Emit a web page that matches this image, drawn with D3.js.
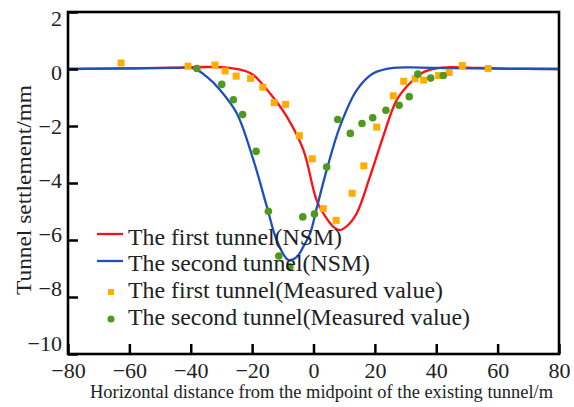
<!DOCTYPE html>
<html><head><meta charset="utf-8">
<script src="https://cdn.jsdelivr.net/npm/d3@7"></script>
<style>body{margin:0;background:#fff;}svg{display:block;}text{font-family:"Liberation Serif","Times New Roman",serif;fill:#222;}</style>
</head><body><svg id="c" width="574" height="407"></svg>
<script>
// Tick values
const xTicks = [-80, -60, -40, -20, 0, 20, 40, 60, 80];
const yTicks = [2, 0, -2, -4, -6, -8, -10];

// The first tunnel (NSM) curve
const firstNSMx = [-80, -60, -45, -35, -28, -22, -19.6, -14.2, -8.7, -3.3, 1, 4, 6.4, 8.5, 11, 14.1, 18.4, 22.7, 27.1, 31.4, 36, 42, 50, 60, 80];
const firstNSMy = [0, 0.02, 0.05, 0.07, 0.05, -0.08, -0.21, -0.85, -1.67, -2.84, -4.6, -5.2, -5.53, -5.65, -5.5, -5.06, -3.78, -2.37, -1.09, -0.5, -0.1, 0.05, 0.05, 0.02, 0];

// The second tunnel (NSM) curve
const secondNSMx = [-80, -60, -45, -39, -34.8, -30.4, -25, -19.6, -15.2, -12, -8.2, -5.5, -3.3, -1.1, 1, 4.3, 8.6, 14.1, 19.5, 26, 35, 45, 60, 80];
const secondNSMy = [0, 0.02, 0.04, 0.02, -0.27, -0.74, -1.55, -3.19, -4.83, -6.0, -6.70, -6.6, -6.23, -5.77, -4.9, -3.54, -2.02, -0.74, -0.15, 0.04, 0.05, 0.03, 0.01, 0];

// The first tunnel (Measured value)
const firstMeasX = [-62.7, -40.9, -32.1, -28.8, -25.2, -20.5, -16.5, -12.8, -9.1, -4.6, -0.4, 3.2, 7.4, 12.6, 16.4, 20.6, 26.0, 29.4, 33.1, 35.9, 40.8, 44.2, 48.5, 56.9];
const firstMeasY = [0.21, 0.10, 0.14, -0.07, -0.25, -0.33, -0.64, -1.18, -1.24, -2.34, -3.15, -4.90, -5.31, -4.36, -3.40, -2.04, -0.94, -0.43, -0.34, -0.39, -0.23, -0.12, 0.12, 0.02];

// The second tunnel (Measured value)
const secondMeasX = [-38.0, -29.9, -26.1, -23.1, -18.7, -14.7, -11.3, -7.7, -3.5, 0.3, 4.3, 7.9, 12.0, 15.8, 19.3, 23.6, 27.9, 31.2, 34.0, 38.2, 42.3];
const secondMeasY = [0.02, -0.54, -1.08, -1.60, -2.89, -4.99, -6.56, -6.94, -5.19, -5.09, -3.44, -1.77, -2.26, -1.91, -1.71, -1.45, -1.27, -0.97, -0.18, -0.32, -0.23];

const legendLabels = ["The first tunnel(NSM)", "The second tunnel(NSM)", "The first tunnel(Measured value)", "The second tunnel(Measured value)"];
const xTitle = "Horizontal distance from the midpoint of the existing tunnel/m";
const yTitle = "Tunnel settlement/mm";

const RED = "#ff1010", BLUE = "#1f4fbf", ORANGE = "#ffad00", GREEN = "#4f9a1c";
const L = 68, R = 559, T = 12, B = 354;
const svg = d3.select("#c");
const x = d3.scaleLinear().domain([-80, 80]).range([L, R]);
const y = d3.scaleLinear().domain([-10, 2]).range([B, T]);
// y tick labels sit on a slightly compressed scale, as in the original
const yLab = d3.scaleLinear().domain([-10, 2]).range([343, 18]);

const zip = (a, b) => a.map((v, i) => [v, b[i]]);
const line = d3.line().x(d => x(d[0])).y(d => y(d[1])).curve(d3.curveCatmullRom.alpha(0.5));

const plot = svg.append("g");
plot.append("path").attr("d", line(zip(firstNSMx, firstNSMy))).attr("fill", "none").attr("stroke", RED).attr("stroke-width", 2.3);
plot.append("path").attr("d", line(zip(secondNSMx, secondNSMy))).attr("fill", "none").attr("stroke", BLUE).attr("stroke-width", 2.3);

plot.selectAll(".sq").data(zip(firstMeasX, firstMeasY)).enter().append("rect")
  .attr("x", d => x(d[0]) - 3.5).attr("y", d => y(d[1]) - 3.5).attr("width", 7).attr("height", 7).attr("fill", ORANGE);
plot.selectAll(".ci").data(zip(secondMeasX, secondMeasY)).enter().append("circle")
  .attr("cx", d => x(d[0])).attr("cy", d => y(d[1])).attr("r", 3.8).attr("fill", GREEN);

// axes (ticks inward)
const fmt = d => d < 0 ? "−" + Math.abs(d) : d;
const xAxis = d3.axisBottom(x).tickValues(xTicks).tickSize(-10).tickPadding(14).tickFormat(fmt);
const yAxis = d3.axisLeft(y).tickValues(yTicks).tickSize(-10).tickPadding(6).tickFormat(fmt);
const gx = svg.append("g").attr("transform", `translate(0,${B})`).call(xAxis);
const gy = svg.append("g").attr("transform", `translate(${L},0)`).call(yAxis);
[gx, gy].forEach(g => {
  g.select(".domain").remove();
  g.selectAll(".tick line").attr("stroke", "#000").attr("stroke-width", 2.5);
  g.selectAll(".tick text").attr("font-size", 22).attr("fill", "#222").attr("font-family", "Liberation Serif");
});
gx.selectAll(".tick text").attr("dy", "0.35em").attr("y", 16);
gy.selectAll(".tick text").attr("y", d => yLab(d) - y(d));
svg.append("rect").attr("x", L).attr("y", T).attr("width", R - L).attr("height", B - T)
  .attr("fill", "none").attr("stroke", "#000").attr("stroke-width", 2.6);

// titles
svg.append("text").attr("x", 90).attr("y", 398).attr("font-size", 19).attr("textLength", 463).attr("lengthAdjust", "spacingAndGlyphs").text(xTitle);
svg.append("text").attr("transform", "translate(31,190) rotate(-90)").attr("text-anchor", "middle").attr("font-size", 22).attr("textLength", 210).attr("lengthAdjust", "spacingAndGlyphs").text(yTitle);

// legend
const baselines = [245, 271, 298, 325];
const widths = [214, 242, 315, 342];
const lg = svg.append("g");
legendLabels.forEach((t, i) => {
  lg.append("text").attr("x", 128).attr("y", baselines[i]).attr("font-size", 23).attr("textLength", widths[i]).attr("lengthAdjust", "spacingAndGlyphs").text(t);
});
lg.append("line").attr("x1", 97).attr("x2", 123).attr("y1", 234).attr("y2", 234).attr("stroke", RED).attr("stroke-width", 2.3);
lg.append("line").attr("x1", 97).attr("x2", 123).attr("y1", 261).attr("y2", 261).attr("stroke", BLUE).attr("stroke-width", 2.3);
lg.append("rect").attr("x", 108).attr("y", 289).attr("width", 6).attr("height", 6).attr("fill", ORANGE);
lg.append("circle").attr("cx", 111).attr("cy", 319).attr("r", 3.5).attr("fill", GREEN);
</script></body></html>
